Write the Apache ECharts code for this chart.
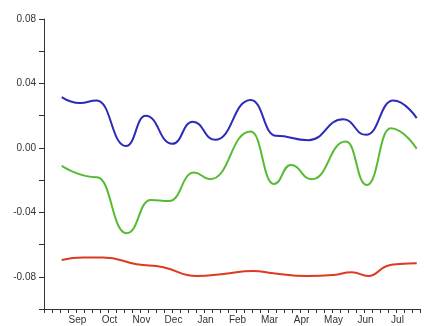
<!DOCTYPE html>
<html>
<head>
<meta charset="utf-8">
<script src="https://cdn.jsdelivr.net/npm/echarts@6/dist/echarts.min.js"></script>
<style>
  html, body { margin: 0; padding: 0; background: #fff; }
  #chart { width: 424px; height: 326px; }
</style>
</head>
<body>
<div id="chart"></div>
<script>
// Time axis in weekly steps; month names sit on every fourth step.
const monthLabels = ['Sep', 'Oct', 'Nov', 'Dec', 'Jan', 'Feb', 'Mar', 'Apr', 'May', 'Jun', 'Jul'];
const monthTicks = [4, 8, 12, 16, 20, 24, 28, 32, 36, 40, 44];

// Blue series: turning points of the curve
const blueWeeks = [2.21, 4.5, 6.59, 10.25, 12.71, 16.04, 18.59, 21.38, 25.84, 29.0, 33.04, 37.41, 40.25, 43.66, 46.59];
const blueValues = [0.0315, 0.0278, 0.0294, 0.0012, 0.0199, 0.0025, 0.0163, 0.0050, 0.0298, 0.0075, 0.0048, 0.0178, 0.0081, 0.0294, 0.0185];

// Green series: turning points of the curve
const greenWeeks = [2.21, 6.59, 10.34, 13.34, 15.63, 18.75, 20.75, 25.84, 28.75, 30.84, 33.46, 37.75, 40.34, 43.34, 46.59];
const greenValues = [-0.0112, -0.0182, -0.0530, -0.0323, -0.0330, -0.0153, -0.0194, 0.0101, -0.0224, -0.0106, -0.0194, 0.0039, -0.0230, 0.0122, -0.0005];

// Red series
const redWeeks = [2.21, 4.91, 7.41, 11.59, 14.91, 19.09, 22.41, 26.16, 28.66, 32.84, 36.16, 38.46, 40.54, 42.84, 44.5, 46.59];
const redValues = [-0.0696, -0.0681, -0.0681, -0.0722, -0.0741, -0.0795, -0.0783, -0.0764, -0.0778, -0.0795, -0.0789, -0.0772, -0.0795, -0.0733, -0.0720, -0.0716];

// Y tick labels shown on every other tick
const yTickLabels = ['0.08', '0.04', '0.00', '-0.04', '-0.08'];

function pairs(xs, ys) {
  return xs.map((x, i) => [x, ys[i]]);
}

function lineSeries(name, xs, ys, color, monotone) {
  return {
    name: name,
    type: 'line',
    data: pairs(xs, ys),
    smooth: 0.5,
    smoothMonotone: monotone,
    showSymbol: false,
    symbol: 'none',
    lineStyle: { color: color, width: 2 },
    itemStyle: { color: color },
    silent: true
  };
}

const axisLineStyle = { color: '#333', width: 1 };
const labelFont = { color: '#333', fontSize: 10, fontFamily: 'Liberation Sans, Arial, sans-serif' };

const chart = echarts.init(document.getElementById('chart'), null, { renderer: 'canvas' });
chart.setOption({
  animation: false,
  backgroundColor: '#fff',
  grid: { left: 44, right: 4, top: 19, bottom: 17, containLabel: false },
  xAxis: {
    type: 'value',
    min: 0,
    max: 47,
    interval: 1,
    axisLine: { show: true, onZero: false, lineStyle: axisLineStyle },
    axisTick: { show: true, inside: false, length: 4, lineStyle: axisLineStyle },
    splitLine: { show: false },
    axisLabel: Object.assign({
      margin: 6,
      padding: [0, 0, 0, 3],
      formatter: function (v) {
        const i = monthTicks.indexOf(Math.round(v));
        return (i >= 0 && Math.abs(v - monthTicks[i]) < 1e-6) ? monthLabels[i] : '';
      }
    }, labelFont)
  },
  yAxis: {
    type: 'value',
    min: -0.10,
    max: 0.08,
    interval: 0.02,
    axisLine: { show: true, lineStyle: axisLineStyle },
    axisTick: { show: true, inside: false, length: 5, lineStyle: axisLineStyle },
    splitLine: { show: false },
    axisLabel: Object.assign({
      margin: 8,
      formatter: function (v) {
        const s = (Math.abs(v) < 1e-9 ? 0 : v).toFixed(2);
        return yTickLabels.indexOf(s) >= 0 ? s : '';
      }
    }, labelFont)
  },
  series: [
    lineSeries('blue', blueWeeks, blueValues, '#2b2bb8', 'x'),
    lineSeries('green', greenWeeks, greenValues, '#56bb33', 'x'),
    lineSeries('red', redWeeks, redValues, '#dd3a22', null)
  ]
});
</script>
</body>
</html>
